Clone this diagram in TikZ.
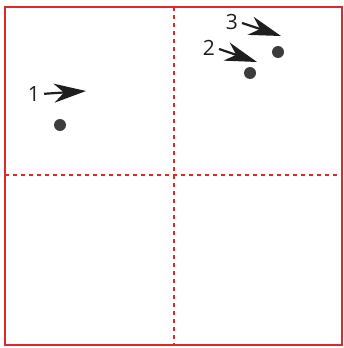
\documentclass[tikz,border=0pt]{standalone}
\usepackage{fontspec}
\setmainfont{Open Sans}
\usetikzlibrary{arrows.meta, positioning}
\definecolor{cFrame}{RGB}{222,40,44}
\definecolor{cDot}{RGB}{60,60,60}
\definecolor{cArrow}{RGB}{30,30,30}

\begin{document}
\begin{tikzpicture}[x=1pt, y=-1pt,
      frame/.style={draw=cFrame, line width=2.6pt},
      split/.style={draw=cFrame, line width=2.2pt, dash pattern=on 4pt off 4pt},
      dot/.style={circle, fill=cDot, inner sep=0pt, minimum size=12pt},
      num/.style={font=\fontsize{21}{21}\selectfont, text=cArrow, inner sep=1pt},
      pointer/.style={-{Stealth[length=32pt, width=19pt, inset=10pt]},
                      draw=cArrow, line width=2.2pt, shorten <=3pt}]
    \useasboundingbox (0,0) rectangle (344,348);
    \draw[frame] (5,7) rectangle (342,345);
    \draw[split] (174,7) -- (174,345);
    \draw[split] (5,175) -- (342,175);
    % points
    \node[dot] (p1) at (60,125) {};
    \node[dot] (p2) at (250,73) {};
    \node[dot] (p3) at (278,52) {};
    % labels and arrows
    \node[num] (n1) at (34,94) {1};
    \node[num] (n2) at (209,48) {2};
    \node[num] (n3) at (232,22) {3};
    \coordinate (t1) at (86,91);
    \coordinate (t2) at (257,62);
    \coordinate (t3) at (281,36);
    \draw[pointer] (n1.east) -- (t1);
    \draw[pointer] (n2.east) -- (t2);
    \draw[pointer] (n3.east) -- (t3);
  \end{tikzpicture}
\end{document}
